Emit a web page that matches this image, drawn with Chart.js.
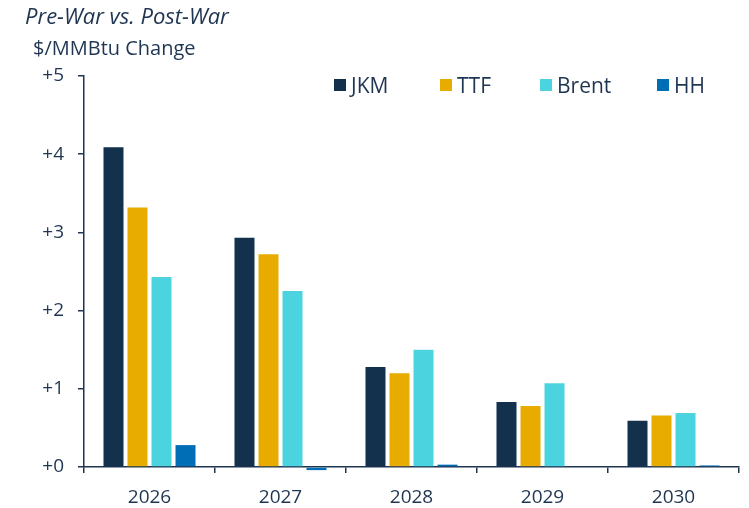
<!DOCTYPE html>
<html><head><meta charset="utf-8">
<script src="https://cdn.jsdelivr.net/npm/chart.js@4.4.0/dist/chart.umd.min.js"></script>
<style>
html,body{margin:0;padding:0;background:#fff;}
#wrap{position:relative;width:749px;height:508px;font-family:"Open Sans",sans-serif;color:#1f3552;overflow:hidden;}
#title{position:absolute;left:25px;top:0px;font-size:22px;font-style:italic;white-space:nowrap;}
#unit{position:absolute;left:33px;top:34px;font-size:20px;white-space:nowrap;}
.sw{position:absolute;top:79px;width:12px;height:12px;}
.lt{position:absolute;top:71px;font-size:21px;white-space:nowrap;}
canvas{position:absolute;left:0;top:0;}
</style></head>
<body>
<div id="wrap">
<canvas id="c" width="749" height="508"></canvas>
<div id="title">Pre-War vs. Post-War</div>
<div id="unit">$/MMBtu Change</div>
<div id="legend"></div>
</div>
<script>
const categories = ["2026","2027","2028","2029","2030"];
const seriesNames = ["JKM","TTF","Brent","HH"];
const jkm   = [4.09, 2.93, 1.28, 0.83, 0.59];
const ttf   = [3.32, 2.72, 1.20, 0.78, 0.66];
const brent = [2.43, 2.25, 1.50, 1.07, 0.69];
const hh    = [0.28, -0.04, 0.03, 0.01, 0.02];
const colors = ["#13304c","#e8ab00","#4bd4df","#006eb6"];
const yTicks = [0,1,2,3,4,5];
const legendX = [334, 440, 540, 657];

const txt = "#1f3552";
const series = [jkm, ttf, brent, hh];

const legend = document.getElementById('legend');
seriesNames.forEach((n,i)=>{
  const s = document.createElement('div');
  s.className='sw'; s.style.left = legendX[i]+'px'; s.style.background = colors[i];
  legend.appendChild(s);
  const t = document.createElement('div');
  t.className='lt'; t.style.left = (legendX[i]+17)+'px'; t.textContent = n;
  legend.appendChild(t);
});

new Chart(document.getElementById('c'), {
  type: 'bar',
  data: {
    labels: categories,
    datasets: series.map((s,i)=>({
      label: seriesNames[i], data: s, backgroundColor: colors[i], clip: false,
      borderWidth: 0, categoryPercentage: 0.733, barPercentage: 0.833
    }))
  },
  options: {
    responsive: false, animation: false,
    layout: { padding: { left: 0, right: 10, top: 76, bottom: 0 } },
    plugins: { legend: { display: false }, tooltip: { enabled: false } },
    scales: {
      x: {
        afterFit: a => { a.height = 41; },
        grid: { offset: true, drawOnChartArea: false, drawTicks: true, tickLength: 6, color: txt, lineWidth: 1.5 },
        border: { display: true, color: txt, width: 1.5 },
        ticks: { color: txt, font: { family: "Open Sans", size: 19 }, padding: 13 }
      },
      y: {
        min: 0, max: 5,
        afterFit: a => { a.width = 84; },
        afterBuildTicks: a => { a.ticks = yTicks.map(v=>({value:v})); },
        grid: { drawOnChartArea: false, drawTicks: true, tickLength: 6, color: txt, lineWidth: 1.5 },
        border: { display: true, color: txt, width: 1.5 },
        ticks: { color: txt, font: { family: "Open Sans", size: 19 }, padding: 14,
          callback: v => '+' + v }
      }
    }
  }
});
</script>
</body></html>
